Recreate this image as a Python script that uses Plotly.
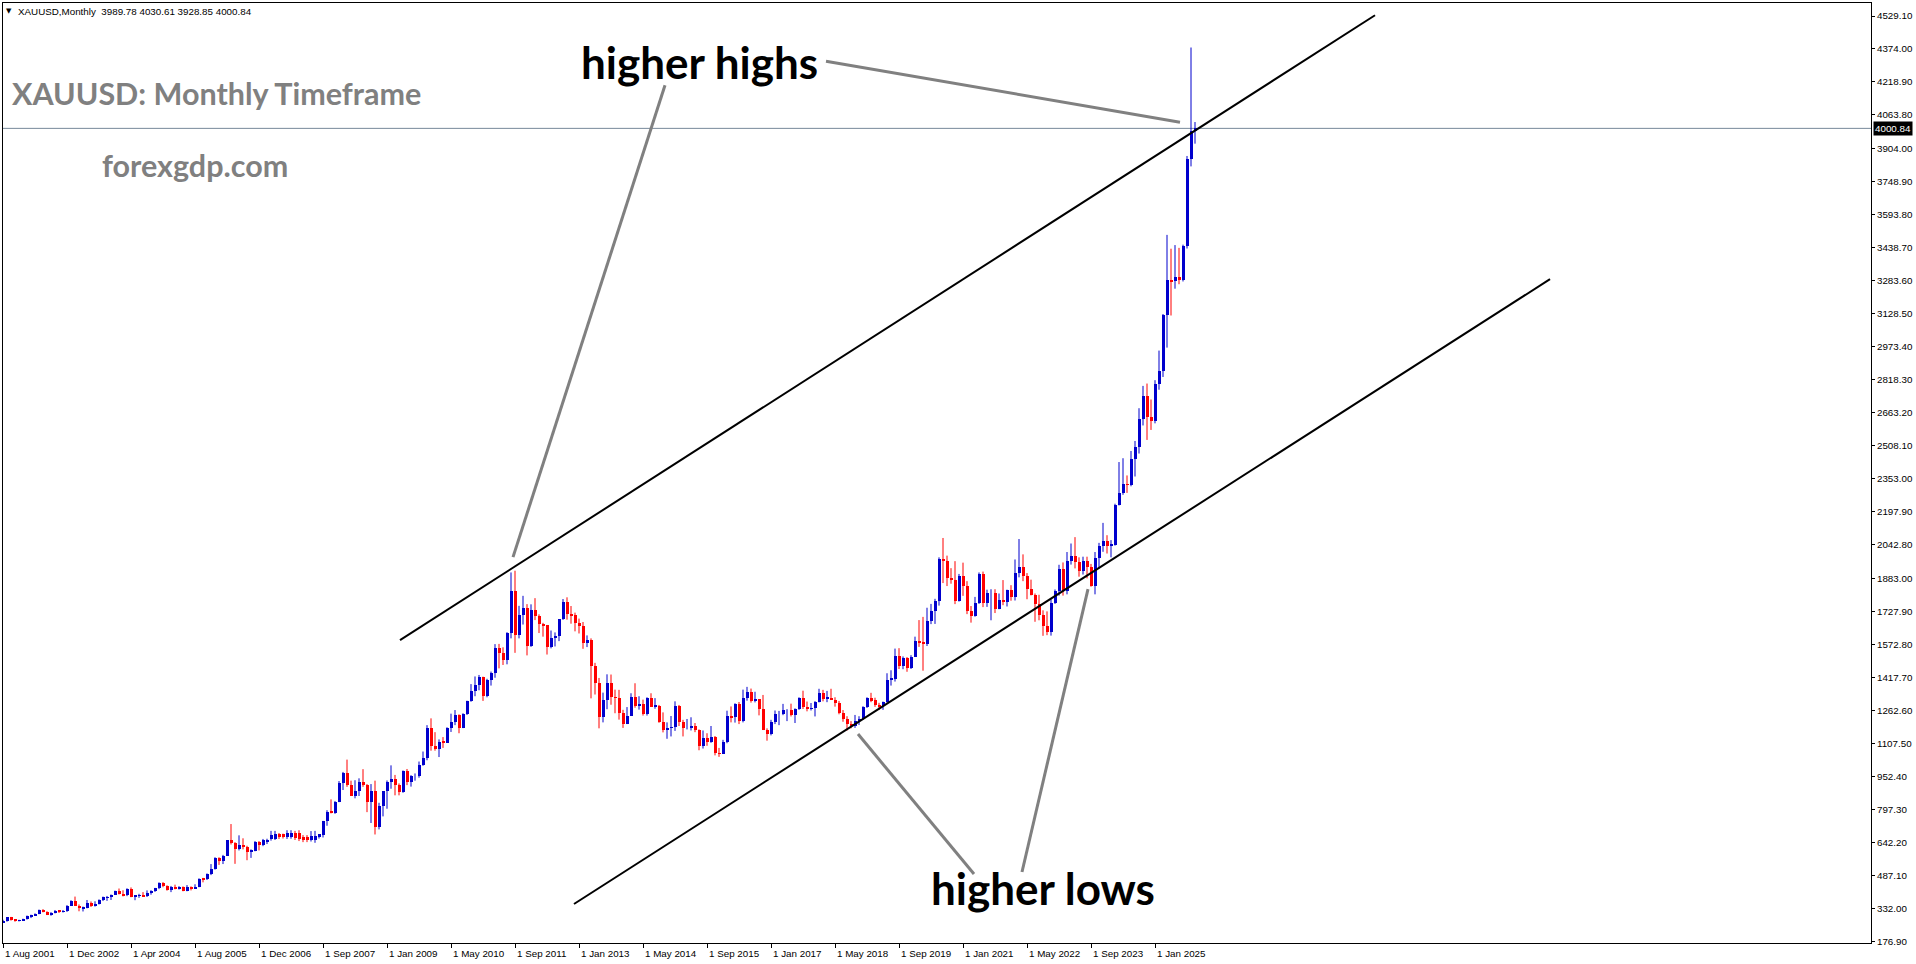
import plotly.graph_objects as go

# ---------------- DATA (monthly XAUUSD bars) ----------------
# bar index 0 = Aug 2001 ... bar 298 = current month (Nov 2025); 4 px per bar in the reference
opens = [
    # 2001 Aug-Dec
    265.5, 273, 293, 279, 275,
    # 2002
    278, 282, 297, 302, 308, 326, 318, 304, 312, 323, 317, 319,
    # 2003
    347, 367, 347, 334, 336, 361, 346, 354, 375, 385, 386, 398,
    # 2004
    416, 402, 396, 426, 388, 393, 395, 391, 408, 415, 428, 453,
    # 2005
    438, 422, 435, 428, 436, 417, 436, 429, 433, 473, 470, 495,
    # 2006
    517, 569, 556, 582, 654, 643, 613, 633, 624, 599, 604, 646,
    # 2007 block (15 bars)
    632, 648, 660, 662, 682, 683, 668, 668, 687, 687, 668, 668, 655, 655, 669,
    # 2007 Sep-Dec
    678, 743, 789, 783,
    # 2008
    834, 923, 972, 916, 864, 885, 930, 912, 833, 884, 718, 816,
    # 2009
    884, 928, 942, 916, 883, 979, 927, 955, 955, 1008, 1040, 1182,
    # 2010
    1096, 1081, 1118, 1113, 1180, 1212, 1244, 1181, 1248, 1307, 1357, 1386,
    # 2011
    1421, 1332, 1409, 1439, 1556, 1536, 1500, 1628, 1826, 1620, 1714, 1746,
    # 2012
    1566, 1738, 1710, 1669, 1664, 1561, 1604, 1614, 1692, 1773, 1719, 1712,
    # 2013
    1675, 1663, 1579, 1596, 1472, 1393, 1234, 1312, 1395, 1327, 1323, 1250,
    # 2014
    1202, 1240, 1326, 1284, 1296, 1246, 1322, 1282, 1287, 1210, 1172, 1183,
    # 2015
    1184, 1283, 1212, 1183, 1183, 1190, 1172, 1095, 1133, 1115, 1141, 1064,
    # 2016
    1061, 1117, 1238, 1233, 1293, 1215, 1321, 1351, 1309, 1316, 1273, 1173,
    # 2017
    1152, 1211, 1249, 1249, 1268, 1268, 1242, 1269, 1322, 1280, 1271, 1275,
    # 2018
    1303, 1345, 1318, 1325, 1315, 1299, 1253, 1224, 1201, 1192, 1215, 1222,
    # 2019
    1282, 1321, 1313, 1292, 1284, 1305, 1409, 1414, 1520, 1472, 1513, 1464,
    # 2020
    1517, 1589, 1585, 1577, 1687, 1730, 1781, 1975, 1967, 1886, 1879, 1777,
    # 2021
    1898, 1847, 1734, 1708, 1769, 1907, 1770, 1814, 1814, 1743, 1783, 1774,
    # 2022
    1829, 1796, 1909, 1937, 1897, 1837, 1807, 1766, 1711, 1660, 1633, 1768,
    # 2023
    1824, 1928, 1827, 1969, 1990, 1963, 1919, 1965, 1940, 1849, 1983, 2036,
    # 2024
    2063, 2039, 2044, 2230, 2286, 2327, 2326, 2447, 2503, 2634, 2744, 2643,
    # 2025 Jan-Nov
    2625, 2798, 2858, 3124, 3288, 3282, 3303, 3290, 3448, 3858, 3989.78,
]
highs = [
    280, 293, 293.5, 281, 280,
    285, 300, 304, 310, 328, 330, 320, 316, 326, 325, 326, 349,
    372, 389, 352, 342, 373, 366, 367, 376, 389, 392, 399, 417,
    427, 419, 428, 432, 395, 402, 410, 418, 419, 430, 456, 457,
    442, 439, 445, 438, 437, 443, 437, 447, 475, 477, 498, 542,
    574, 574, 585, 655, 730, 645, 677, 663, 628, 611, 650, 650,
    660, 661, 698, 698, 688, 685, 701, 701, 698, 701, 678, 678, 697, 698, 683,
    745, 795, 846, 838,
    932, 975, 1033, 934, 936, 945, 988, 918, 918, 934, 830, 882,
    935, 1006, 961, 921, 982, 989, 960, 968, 1024, 1071, 1195, 1227,
    1162, 1128, 1139, 1185, 1249, 1266, 1246, 1251, 1310, 1388, 1424, 1431,
    1423, 1413, 1447, 1576, 1577, 1561, 1632, 1913, 1921, 1756, 1803, 1764,
    1763, 1792, 1716, 1676, 1666, 1640, 1631, 1693, 1788, 1796, 1755, 1724,
    1696, 1680, 1617, 1603, 1488, 1417, 1348, 1434, 1433, 1362, 1361, 1267,
    1280, 1345, 1392, 1331, 1315, 1326, 1345, 1322, 1290, 1255, 1208, 1238,
    1307, 1290, 1220, 1224, 1232, 1205, 1175, 1170, 1157, 1191, 1144, 1088,
    1126, 1263, 1283, 1298, 1304, 1362, 1375, 1367, 1352, 1318, 1337, 1180,
    1220, 1264, 1262, 1295, 1270, 1296, 1274, 1326, 1357, 1306, 1299, 1308,
    1366, 1361, 1356, 1366, 1326, 1309, 1266, 1237, 1214, 1243, 1237, 1284,
    1326, 1347, 1324, 1300, 1306, 1439, 1453, 1555, 1557, 1518, 1515, 1524,
    1611, 1689, 1704, 1747, 1765, 1789, 1984, 2075, 1992, 1933, 1966, 1906,
    1959, 1872, 1755, 1798, 1913, 1917, 1832, 1834, 1834, 1814, 1877, 1832,
    1853, 1974, 2070, 1998, 1910, 1879, 1814, 1808, 1735, 1730, 1787, 1833,
    1949, 1960, 2009, 2049, 2079, 1984, 1987, 1987, 1953, 2009, 2052, 2146,
    2088, 2065, 2236, 2432, 2450, 2369, 2484, 2531, 2685, 2790, 2801, 2726,
    2817, 2956, 3128, 3500, 3435, 3452, 3439, 3454, 3871, 4381, 4030.61,
]
lows = [
    265, 271, 276, 271, 272,
    276, 281, 288, 299, 306, 315, 302, 299, 310, 312, 314, 317,
    345, 345, 320, 319, 334, 340, 342, 352, 368, 369, 373, 397,
    399, 390, 391, 386, 372, 383, 388, 387, 398, 411, 424, 433,
    417, 410, 423, 422, 414, 414, 418, 426, 433, 456, 467, 490,
    516, 538, 542, 581, 634, 543, 606, 611, 560, 571, 602, 606,
    626, 636, 652, 655, 660, 662, 660, 661, 655, 650, 645, 645, 648, 642, 662,
    667, 722, 780, 778,
    833, 890, 905, 863, 851, 862, 905, 786, 735, 681, 705, 766,
    802, 896, 865, 865, 877, 913, 906, 934, 948, 1004, 1030, 1075,
    1075, 1045, 1088, 1113, 1163, 1195, 1157, 1181, 1243, 1305, 1331, 1359,
    1309, 1326, 1381, 1418, 1462, 1478, 1481, 1603, 1535, 1603, 1668, 1523,
    1563, 1689, 1628, 1611, 1527, 1556, 1565, 1590, 1690, 1691, 1672, 1636,
    1626, 1554, 1562, 1321, 1339, 1180, 1208, 1270, 1291, 1251, 1221, 1182,
    1200, 1238, 1277, 1268, 1240, 1240, 1282, 1272, 1206, 1161, 1131, 1142,
    1168, 1191, 1142, 1175, 1170, 1162, 1077, 1085, 1098, 1112, 1053, 1046,
    1060, 1110, 1208, 1207, 1200, 1208, 1310, 1301, 1302, 1241, 1172, 1122,
    1147, 1200, 1195, 1242, 1214, 1236, 1205, 1267, 1271, 1260, 1264, 1236,
    1302, 1307, 1303, 1314, 1282, 1246, 1211, 1170, 1180, 1182, 1196, 1221,
    1276, 1303, 1281, 1266, 1267, 1301, 1381, 1400, 1459, 1458, 1446, 1459,
    1517, 1563, 1451, 1567, 1670, 1671, 1757, 1863, 1849, 1860, 1764, 1776,
    1803, 1717, 1677, 1705, 1765, 1750, 1751, 1688, 1722, 1740, 1759, 1753,
    1780, 1781, 1890, 1872, 1787, 1805, 1681, 1688, 1615, 1618, 1616, 1765,
    1804, 1804, 1810, 1950, 1932, 1893, 1903, 1885, 1846, 1810, 1931, 2010,
    2002, 1984, 2039, 2228, 2278, 2287, 2318, 2364, 2472, 2604, 2536, 2583,
    2614, 2772, 2832, 2970, 3121, 3247, 3268, 3281, 3436, 3822, 3928.85,
]
closes = [
    273, 293, 279, 275, 278,
    282, 297, 302, 308, 326, 318, 304, 312, 323, 317, 319, 347,
    367, 347, 334, 336, 361, 346, 354, 375, 385, 386, 398, 416,
    402, 396, 426, 388, 393, 395, 391, 408, 415, 428, 453, 438,
    422, 435, 428, 436, 417, 436, 429, 433, 473, 470, 495, 517,
    569, 556, 582, 654, 643, 613, 633, 624, 599, 604, 646, 632,
    655, 656, 678, 683, 671, 671, 687, 687, 664, 661, 655, 655, 673, 673, 683,
    743, 789, 783, 834,
    923, 972, 916, 864, 885, 930, 912, 833, 884, 718, 816, 884,
    928, 942, 916, 883, 979, 927, 955, 955, 1008, 1040, 1182, 1096,
    1081, 1118, 1113, 1180, 1212, 1244, 1181, 1248, 1307, 1357, 1386, 1421,
    1332, 1409, 1439, 1556, 1536, 1500, 1628, 1826, 1620, 1714, 1746, 1566,
    1738, 1710, 1669, 1664, 1561, 1604, 1614, 1692, 1773, 1719, 1712, 1675,
    1663, 1579, 1596, 1472, 1393, 1234, 1312, 1395, 1327, 1323, 1250, 1202,
    1240, 1326, 1284, 1296, 1246, 1322, 1282, 1287, 1210, 1172, 1183, 1184,
    1283, 1212, 1183, 1183, 1190, 1172, 1095, 1133, 1115, 1141, 1064, 1061,
    1117, 1238, 1233, 1293, 1215, 1321, 1351, 1309, 1316, 1273, 1173, 1152,
    1211, 1249, 1249, 1268, 1268, 1242, 1269, 1322, 1280, 1271, 1275, 1303,
    1345, 1318, 1325, 1315, 1299, 1253, 1224, 1201, 1192, 1215, 1222, 1282,
    1321, 1313, 1292, 1284, 1305, 1409, 1414, 1520, 1472, 1513, 1464, 1517,
    1589, 1585, 1577, 1687, 1730, 1781, 1975, 1967, 1886, 1879, 1777, 1898,
    1847, 1734, 1708, 1769, 1907, 1770, 1814, 1814, 1743, 1783, 1774, 1829,
    1796, 1909, 1937, 1897, 1837, 1807, 1766, 1711, 1660, 1633, 1768, 1824,
    1928, 1827, 1969, 1990, 1963, 1919, 1965, 1940, 1849, 1983, 2036, 2063,
    2039, 2044, 2230, 2286, 2327, 2326, 2447, 2503, 2634, 2744, 2643, 2625,
    2798, 2858, 3124, 3288, 3282, 3303, 3290, 3448, 3858, 3989.78, 4000.84,
]

# time-axis labels (bar index -> label)
date_tick_bars = [0, 16, 32, 48, 64, 80, 96, 112, 128, 144, 160, 176, 192, 208, 224, 240, 256, 272, 288]
date_tick_labels = ["1 Aug 2001", "1 Dec 2002", "1 Apr 2004", "1 Aug 2005", "1 Dec 2006", "1 Sep 2007",
                    "1 Jan 2009", "1 May 2010", "1 Sep 2011", "1 Jan 2013", "1 May 2014", "1 Sep 2015",
                    "1 Jan 2017", "1 May 2018", "1 Sep 2019", "1 Jan 2021", "1 May 2022", "1 Sep 2023",
                    "1 Jan 2025"]
# price-scale labels
price_ticks = [176.90, 332.00, 487.10, 642.20, 797.30, 952.40, 1107.50, 1262.60, 1417.70, 1572.80,
               1727.90, 1883.00, 2042.80, 2197.90, 2353.00, 2508.10, 2663.20, 2818.30, 2973.40,
               3128.50, 3283.60, 3438.70, 3593.80, 3748.90, 3904.00, 4063.80, 4218.90, 4374.00, 4529.10]
last_price = 4000.84
header_text = "XAUUSD,Monthly\u00a0\u00a03989.78 4030.61 3928.85 4000.84"

# drawn objects (bar index, price)
upper_channel = [(99.25, 1595.0), (343.0, 4532.6)]
lower_channel = [(142.75, 354.1), (386.75, 3291.7)]
pointer_lines = [
    [(165.5, 4203.6), (127.5, 1985.1)],
    [(205.75, 4316.4), (294.25, 4029.7)],
    [(242.75, 495.1), (213.75, 1153.1)],
    [(254.75, 504.5), (271.25, 1834.7)],
]
label_hh = (174.0, 4311.6, "higher highs")
label_hl = (260.0, 429.3, "higher lows")

# ---------------- FIGURE ----------------
BULL = "#0000CD"
BEAR = "#FF0000"
n = len(closes)
idx = list(range(n))

fig = go.Figure()

for is_bull, col in ((True, BULL), (False, BEAR)):
    sel = [i for i in idx if (closes[i] >= opens[i]) == is_bull]
    wx, wy = [], []
    for i in sel:
        wx += [i, i, None]
        wy += [lows[i], highs[i], None]
    fig.add_trace(go.Scatter(x=wx, y=wy, mode="lines", line=dict(color=col, width=1),
                             hoverinfo="skip", showlegend=False))
    fig.add_trace(go.Bar(x=sel,
                         y=[abs(closes[i] - opens[i]) for i in sel],
                         base=[min(opens[i], closes[i]) for i in sel],
                         width=0.75, marker=dict(color=col, line=dict(width=0)),
                         showlegend=False, hoverinfo="skip"))

shapes = []
for (a, b) in (upper_channel, lower_channel):
    shapes.append(dict(type="line", xref="x", yref="y", x0=a[0], y0=a[1], x1=b[0], y1=b[1],
                       line=dict(color="black", width=2), layer="above"))
for (a, b) in pointer_lines:
    shapes.append(dict(type="line", xref="x", yref="y", x0=a[0], y0=a[1], x1=b[0], y1=b[1],
                       line=dict(color="#808080", width=3), layer="above"))
shapes.append(dict(type="line", xref="paper", yref="y", x0=0, x1=1, y0=last_price, y1=last_price,
                   line=dict(color="#778899", width=1), layer="below"))

W, H = 1916, 964
ML, MR, MT, MB = 3, 45, 3, 21
PW, PH = W - ML - MR, H - MT - MB


def px(xp):
    return (xp - ML) / PW


def py(yp):
    return (H - MB - yp) / PH


small = dict(family="Liberation Sans, Arial, sans-serif", size=9.8, color="black")
big = dict(family="Lato, sans-serif", size=44, color="black")
gray = dict(family="Lato, sans-serif", size=30.5, color="#808080")

annotations = []
for b, t in zip(date_tick_bars, date_tick_labels):
    annotations.append(dict(x=b, y=0, xref="x", yref="paper", text=t, showarrow=False,
                            xanchor="left", yanchor="top", xshift=0, yshift=-3, font=small))
annotations += [
    dict(x=px(4), y=py(11), xref="paper", yref="paper", text="\u25bc", showarrow=False,
         xanchor="left", yanchor="middle", font=dict(family="DejaVu Sans", size=7, color="black")),
    dict(x=px(16), y=py(11), xref="paper", yref="paper", text=header_text, showarrow=False,
         xanchor="left", yanchor="middle", font=small),
    dict(x=px(10), y=py(93), xref="paper", yref="paper", text="<b>XAUUSD: Monthly Timeframe</b>",
         showarrow=False, xanchor="left", yanchor="middle", font=gray),
    dict(x=px(100), y=py(165), xref="paper", yref="paper", text="<b>forexgdp.com</b>",
         showarrow=False, xanchor="left", yanchor="middle", font=gray),
    dict(x=label_hh[0], y=label_hh[1], xref="x", yref="y", text="<b>" + label_hh[2] + "</b>",
         showarrow=False, xanchor="center", yanchor="middle", font=big),
    dict(x=label_hl[0], y=label_hl[1], xref="x", yref="y", text="<b>" + label_hl[2] + "</b>",
         showarrow=False, xanchor="center", yanchor="middle", font=big),
    dict(x=1, y=last_price, xref="paper", yref="y", text=f"{last_price:.2f}", showarrow=False,
         xanchor="left", yanchor="middle", xshift=2, bgcolor="black", borderpad=1,
         font=dict(family="Liberation Sans, Arial, sans-serif", size=9.8, color="white")),
]

fig.update_layout(
    width=W, height=H,
    margin=dict(l=ML, r=MR, t=MT, b=MB, pad=0),
    paper_bgcolor="white", plot_bgcolor="white",
    barmode="overlay", bargap=0,
    showlegend=False,
    shapes=shapes, annotations=annotations,
    xaxis=dict(range=[0, PW / 4], showgrid=False, zeroline=False,
               showline=True, mirror=True, linecolor="black", linewidth=1,
               tickvals=date_tick_bars, ticks="outside", ticklen=4, tickcolor="black",
               showticklabels=False, fixedrange=True),
    yaxis=dict(range=[170.8, 4590.2], side="right", showgrid=False, zeroline=False,
               showline=True, mirror=True, linecolor="black", linewidth=1,
               tickvals=price_ticks, ticktext=[f"{v:.2f}" for v in price_ticks],
               ticks="outside", ticklen=3, tickcolor="black", tickfont=small, fixedrange=True),
)

fig.write_html("out.html", config={"displayModeBar": False},
               post_script="document.body.style.margin='0';document.body.style.overflow='hidden';")
